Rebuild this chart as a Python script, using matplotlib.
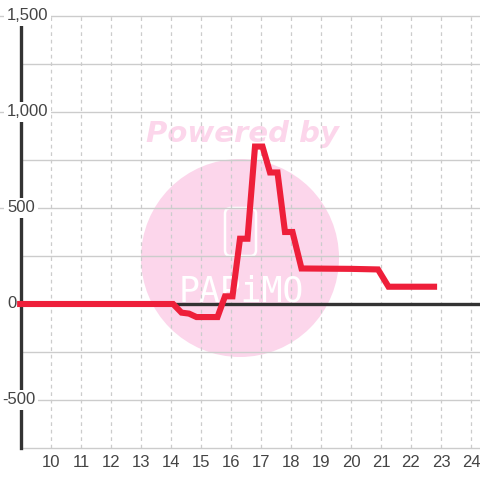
import matplotlib
matplotlib.use("Agg")
import matplotlib.pyplot as plt
from matplotlib.patches import Circle, FancyBboxPatch
from matplotlib.transforms import blended_transform_factory

# data
hours = [8.87, 14.07, 14.35, 14.6, 14.85, 15.55, 15.8, 16.05, 16.3, 16.55,
         16.8, 17.05, 17.3, 17.55, 17.8, 18.05, 18.35, 20.0, 20.9, 21.25, 22.87]
values = [0, 0, -45, -50, -68, -68, 40, 40, 340, 340,
          820, 820, 685, 685, 375, 375, 185, 183, 180, 90, 90]

x_ticks = list(range(10, 25))
y_major = [-500, 0, 500, 1000, 1500]
y_labels = ['-500', '0', '500', '1,000', '1,500']
y_minor = [-250, 250, 750, 1250]

plt.rcParams['font.family'] = ['Liberation Sans', 'DejaVu Sans']
txt_color = '#444444'
grid_color = '#cccccc'

fig = plt.figure(figsize=(4.8, 4.8), dpi=100)
fig.patch.set_facecolor('white')
W = 480.0
ax = fig.add_axes([21 / W, 32 / W, 459 / W, 432 / W])
ax.set_xlim(9, 9 + 459 / 30.0)
ax.set_ylim(-750, 1500)
ax.patch.set_alpha(0)

for s in ['top', 'right']:
    ax.spines[s].set_visible(False)
ax.spines['bottom'].set_color(grid_color)
ax.spines['bottom'].set_linewidth(1)
ax.spines['left'].set_color('#333333')
ax.spines['left'].set_linewidth(2.4)
ax.spines['left'].set_zorder(3)

ax.set_xticks(x_ticks)
ax.set_xticklabels([str(t) for t in x_ticks])
ax.tick_params(axis='x', length=0, pad=5, labelsize=12, labelcolor=txt_color)
ax.set_yticks([])

# watermark
fig_tr = fig.transFigure
ax.add_patch(Circle((240 / W, 1 - 258 / W), 99 / W, transform=fig_tr,
                    facecolor='#fcd6eb', edgecolor='none', zorder=0.1, clip_on=False))
ax.add_patch(FancyBboxPatch((225 / W, 1 - 256 / W), 31 / W, 48 / W,
                            boxstyle='round,pad=0,rounding_size=0.012',
                            transform=fig_tr, facecolor='none', edgecolor='white',
                            linewidth=1.8, zorder=0.2, clip_on=False))
ax.text(241 / W, 1 - 291 / W, 'PAPiMO', transform=fig_tr, ha='center', va='center',
        fontsize=25, color='white', family='DejaVu Sans Mono', fontweight='light',
        zorder=0.2)
ax.text(242 / W, 1 - 134 / W, 'Powered by', transform=fig_tr, ha='center', va='center',
        fontsize=21, fontweight='heavy', fontstyle='italic', color='#fcd6eb',
        family='DejaVu Sans', zorder=0.1)

# grid
for x in x_ticks:
    ax.axvline(x, color=grid_color, lw=0.9, ls=(0, (3, 3)), zorder=0.5)
for y in y_minor:
    ax.axhline(y, color=grid_color, lw=1, zorder=0.5)
for y in y_major:
    if y == 0:
        continue
    ax.axhline(y, xmin=-21 / 459, xmax=1, color=grid_color, lw=1, zorder=0.5, clip_on=False)
ax.axhline(0, color='#333333', lw=2.4, zorder=2)

# y labels with white boxes over the spine
tr = blended_transform_factory(ax.transAxes, ax.transData)
for y, lab in zip(y_major, y_labels):
    xp = 7 if not lab.startswith('-') else 2
    ax.text((xp - 21) / 459, y, lab, transform=tr, ha='left', va='center',
            fontsize=12, color=txt_color, zorder=5, clip_on=False,
            bbox=dict(facecolor='white', edgecolor='none', pad=2))

ax.plot(hours, values, color='#ee1f3a', lw=4.4, solid_joinstyle='miter',
        solid_capstyle='butt', zorder=6, clip_on=False)

fig.savefig('out.png', dpi=100)
